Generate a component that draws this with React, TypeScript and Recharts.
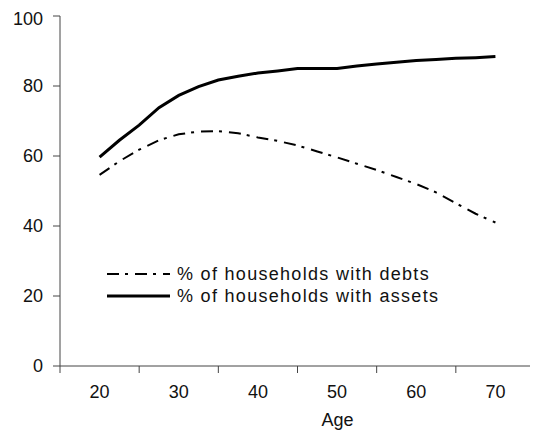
import { Legend, Line, LineChart, XAxis, YAxis } from "recharts";

const font = "'Liberation Sans', Arial, sans-serif";

const ages = [20, 22.5, 25, 27.5, 30, 32.5, 35, 37.5, 40, 42.5, 45, 47.5, 50, 52.5, 55, 57.5, 60, 62.5, 65, 67.5, 70];
const debts = [54.6, 58.5, 61.8, 64.5, 66.2, 67, 67.1, 66.5, 65.3, 64.3, 63, 61.3, 59.6, 57.8, 56, 54, 52, 49.6, 46.5, 43.5, 41];
const assets = [59.7, 64.5, 68.8, 73.8, 77.3, 79.8, 81.7, 82.8, 83.7, 84.3, 85, 85, 85, 85.7, 86.3, 86.8, 87.3, 87.6, 87.9, 88.1, 88.4];
const xTicks = [15, 20, 25, 30, 35, 40, 45, 50, 55, 60, 65, 70, 75];
const yTicks = [0, 20, 40, 60, 80, 100];

const series = [
  { key: "debts", name: "% of households with debts", width: 2, dash: "12 6 3 7" },
  { key: "assets", name: "% of households with assets", width: 3, dash: undefined }
];

const data = ages.map((age, i) => ({ age, debts: debts[i], assets: assets[i] }));

// labels sit on multiples of 10, tick marks between them
function AgeTick(props: any) {
  const { x, y, payload } = props;
  if (payload.value % 10 === 5) {
    return <line x1={x} y1={y - 8} x2={x} y2={y - 1} stroke="#444" />;
  }
  return (
    <text x={x} y={y} dy={24} textAnchor="middle" fill="#111" fontSize={18} fontFamily={font}>
      {payload.value}
    </text>
  );
}

function LegendBox() {
  return (
    <div style={{ fontFamily: font, fontSize: 18, color: "#111" }}>
      {series.map((s) => (
        <div key={s.key} style={{ display: "flex", alignItems: "center", height: 22 }}>
          <svg width={64} height={10}>
            <line x1={0} y1={5} x2={63} y2={5} stroke="#000" strokeWidth={s.width} strokeDasharray={s.dash} />
          </svg>
          <span style={{ marginLeft: 6, letterSpacing: 1.3 }}>{s.name}</span>
        </div>
      ))}
    </div>
  );
}

export default function App() {
  return (
    <LineChart width={530} height={430} data={data} margin={{ top: 8, right: 3, left: 0, bottom: 12 }}>
      <XAxis
        dataKey="age"
        type="number"
        domain={[15, 75]}
        ticks={xTicks}
        interval={0}
        tickLine={false}
        tick={<AgeTick />}
        axisLine={{ stroke: "#444" }}
        height={60}
        label={{ value: "Age", position: "insideBottom", dx: 40, offset: 0, fill: "#111", fontSize: 18, fontFamily: font }}
      />
      <YAxis
        domain={[0, 100]}
        ticks={yTicks}
        width={52}
        tickSize={7}
        tickMargin={10}
        axisLine={{ stroke: "#444" }}
        tickLine={{ stroke: "#444" }}
        tick={{ fill: "#111", fontSize: 18, fontFamily: font }}
      />
      <Legend
        layout="vertical"
        align="center"
        verticalAlign="middle"
        wrapperStyle={{ left: 99, top: 255, width: "auto" }}
        content={<LegendBox />}
      />
      {series.map((s) => (
        <Line
          key={s.key}
          type="linear"
          dataKey={s.key}
          name={s.name}
          stroke="#000"
          strokeWidth={s.width}
          strokeDasharray={s.dash}
          dot={false}
          isAnimationActive={false}
        />
      ))}
    </LineChart>
  );
}
